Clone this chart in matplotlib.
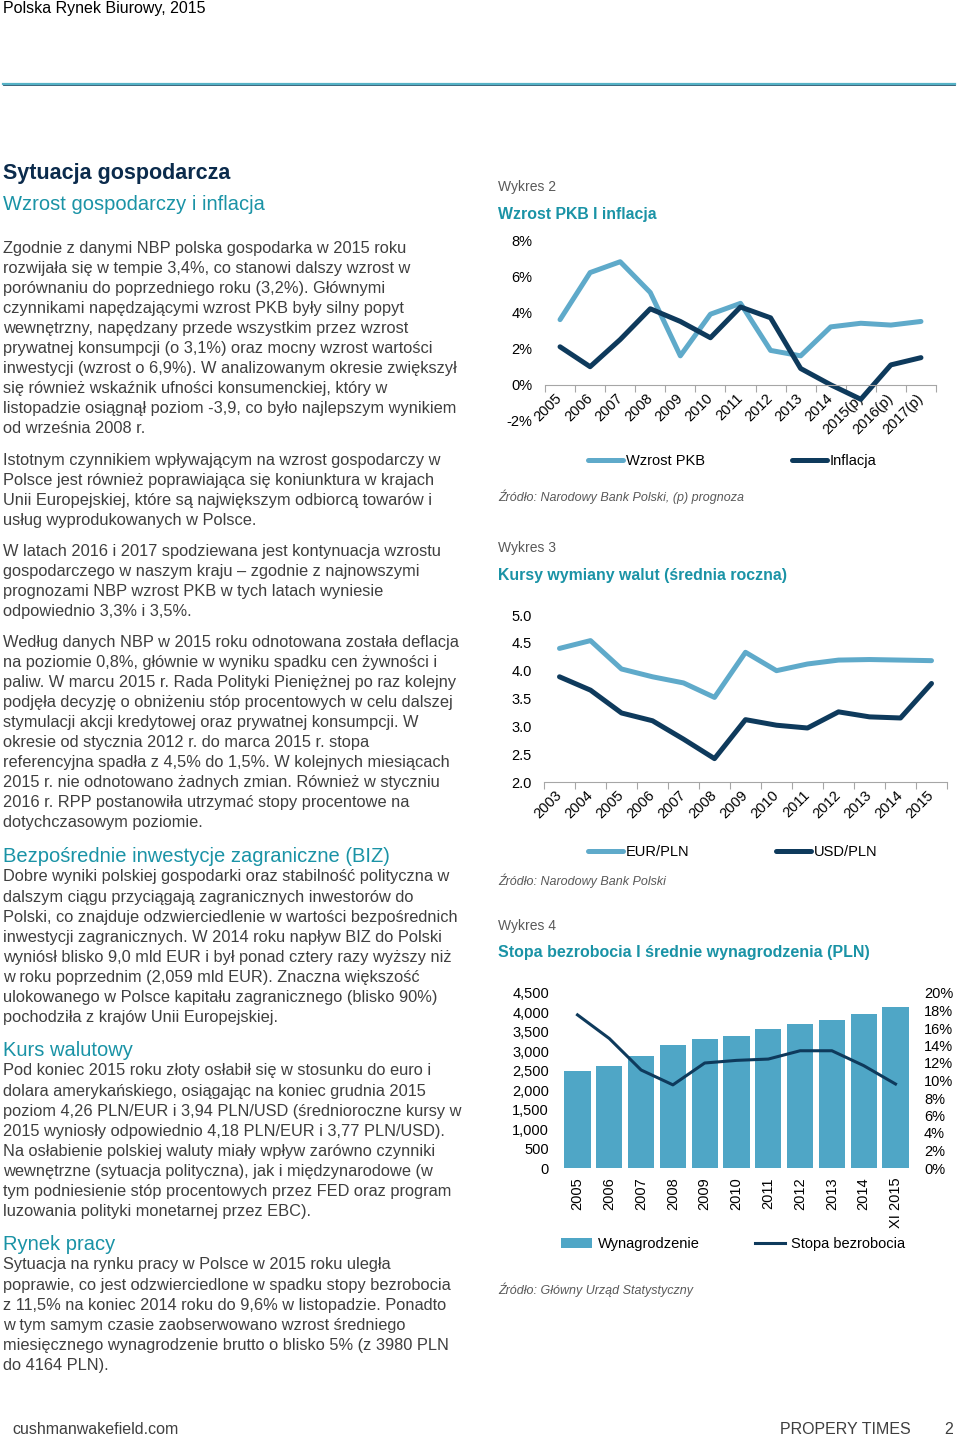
#!/usr/bin/env python3
"""
plot.py — page 2 of the Polish office market report: text column + three charts.
"""
import numpy as np
import matplotlib
matplotlib.use('Agg')
import matplotlib.pyplot as plt
from matplotlib.ticker import FuncFormatter

plt.rcParams['font.family'] = ['Liberation Sans', 'DejaVu Sans']

# --- chart data -------------------------------------------------------------
pkb_years = ['2005', '2006', '2007', '2008', '2009', '2010', '2011',
             '2012', '2013', '2014', '2015(p)', '2016(p)', '2017(p)']
pkb_growth = [3.6, 6.2, 6.8, 5.1, 1.6, 3.9, 4.5, 1.9, 1.6, 3.2, 3.4, 3.3, 3.5]
inflation = [2.1, 1.0, 2.5, 4.2, 3.5, 2.6, 4.3, 3.7, 0.9, 0.0, -0.8, 1.1, 1.5]

fx_years = ['2003', '2004', '2005', '2006', '2007', '2008', '2009',
            '2010', '2011', '2012', '2013', '2014', '2015']
eur_pln = [4.40, 4.54, 4.03, 3.89, 3.78, 3.52, 4.33, 4.00, 4.12, 4.19, 4.20, 4.19, 4.18]
usd_pln = [3.89, 3.65, 3.24, 3.10, 2.77, 2.42, 3.12, 3.02, 2.97, 3.26, 3.17, 3.15, 3.77]

wage_years = ['2005', '2006', '2007', '2008', '2009', '2010', '2011',
              '2012', '2013', '2014', 'XI 2015']
wages = [2485, 2620, 2870, 3160, 3305, 3405, 3585, 3705, 3815, 3960, 4140]
unemployment = [17.5, 14.8, 11.2, 9.5, 12.0, 12.3, 12.45, 13.4, 13.4, 11.7, 9.6]

# --- page text --------------------------------------------------------------
para_gdp = [
    "Zgodnie z danymi NBP polska gospodarka w 2015 roku",
    "rozwijała się w tempie 3,4%, co stanowi dalszy wzrost w",
    "porównaniu do poprzedniego roku (3,2%). Głównymi",
    "czynnikami napędzającymi wzrost PKB były silny popyt",
    "wewnętrzny, napędzany przede wszystkim przez wzrost",
    "prywatnej konsumpcji (o 3,1%) oraz mocny wzrost wartości",
    "inwestycji (wzrost o 6,9%). W analizowanym okresie zwiększył",
    "się również wskaźnik ufności konsumenckiej, który w",
    "listopadzie osiągnął poziom -3,9, co było najlepszym wynikiem",
    "od września 2008 r.",
]
para_eu = [
    "Istotnym czynnikiem wpływającym na wzrost gospodarczy w",
    "Polsce jest również poprawiająca się koniunktura w krajach",
    "Unii Europejskiej, które są największym odbiorcą towarów i",
    "usług wyprodukowanych w Polsce.",
]
para_forecast = [
    "W latach 2016 i 2017 spodziewana jest kontynuacja wzrostu",
    "gospodarczego w naszym kraju – zgodnie z najnowszymi",
    "prognozami NBP wzrost PKB w tych latach wyniesie",
    "odpowiednio 3,3% i 3,5%.",
]
para_deflation = [
    "Według danych NBP w 2015 roku odnotowana została deflacja",
    "na poziomie 0,8%, głównie w wyniku spadku cen żywności i",
    "paliw. W marcu 2015 r. Rada Polityki Pieniężnej po raz kolejny",
    "podjęła decyzję o obniżeniu stóp procentowych w celu dalszej",
    "stymulacji akcji kredytowej oraz prywatnej konsumpcji. W",
    "okresie od stycznia 2012 r. do marca 2015 r. stopa",
    "referencyjna spadła z 4,5% do 1,5%. W kolejnych miesiącach",
    "2015 r. nie odnotowano żadnych zmian. Również w styczniu",
    "2016 r. RPP postanowiła utrzymać stopy procentowe na",
    "dotychczasowym poziomie.",
]
para_biz = [
    "Dobre wyniki polskiej gospodarki oraz stabilność polityczna w",
    "dalszym ciągu przyciągają zagranicznych inwestorów do",
    "Polski, co znajduje odzwierciedlenie w wartości bezpośrednich",
    "inwestycji zagranicznych. W 2014 roku napływ BIZ do Polski",
    "wyniósł blisko 9,0 mld EUR i był ponad cztery razy wyższy niż",
    "w roku poprzednim (2,059 mld EUR). Znaczna większość",
    "ulokowanego w Polsce kapitału zagranicznego (blisko 90%)",
    "pochodziła z krajów Unii Europejskiej.",
]
para_fx = [
    "Pod koniec 2015 roku złoty osłabił się w stosunku do euro i",
    "dolara amerykańskiego, osiągając na koniec grudnia 2015",
    "poziom 4,26 PLN/EUR i 3,94 PLN/USD (średnioroczne kursy w",
    "2015 wyniosły odpowiednio 4,18 PLN/EUR i 3,77 PLN/USD).",
    "Na osłabienie polskiej waluty miały wpływ zarówno czynniki",
    "wewnętrzne (sytuacja polityczna), jak i międzynarodowe (w",
    "tym podniesienie stóp procentowych przez FED oraz program",
    "luzowania polityki monetarnej przez EBC).",
]
para_labour = [
    "Sytuacja na rynku pracy w Polsce w 2015 roku uległa",
    "poprawie, co jest odzwierciedlone w spadku stopy bezrobocia",
    "z 11,5% na koniec 2014 roku do 9,6% w listopadzie. Ponadto",
    "w tym samym czasie zaobserwowano wzrost średniego",
    "miesięcznego wynagrodzenie brutto o blisko 5% (z 3980 PLN",
    "do 4164 PLN).",
]

# --- styling ----------------------------------------------------------------
W, H = 960, 1439
LIGHT = '#5FAACA'
DARK = '#0E3A5C'
BAR = '#4FA6C6'
TEAL = '#1A93A6'
NAVY = '#0B2B4C'
BODY = '#3F3F3F'
GREY = '#595959'
AXIS = '#A6A6A6'
NARROW = ['Liberation Sans Narrow', 'Liberation Sans', 'DejaVu Sans']

BODY_SIZE = 11.75
HEAD_SIZE = 14.5
TICK_SIZE = 10.5
LINE_STEP = 20.1

fig = plt.figure(figsize=(W / 100, H / 100), dpi=100)


def put(x, y, s, size, color, **kw):
    """Place text using page pixel coordinates (y from top)."""
    fig.text(x / W, 1 - y / H, s, fontsize=size, color=color, va='center', **kw)


def para(lines, y0):
    for i, line in enumerate(lines):
        put(3, y0 + i * LINE_STEP, line, BODY_SIZE, BODY)


def px_axes(left, top, right, bottom):
    return fig.add_axes([left / W, 1 - bottom / H, (right - left) / W, (bottom - top) / H])


def category_axis(ax, labels, pad):
    n = len(labels)
    ax.set_xlim(-0.5, n - 0.5)
    ax.set_xticks(np.arange(-0.5, n, 1.0))
    ax.set_xticklabels([])
    ax.tick_params(axis='x', which='major', length=5, color=AXIS, direction='out')
    ax.set_xticks(np.arange(n), minor=True)
    ax.set_xticklabels(labels, minor=True, rotation=45, ha='right', va='center',
                       rotation_mode='anchor', fontsize=TICK_SIZE, color='black')
    ax.tick_params(axis='x', which='minor', length=0, pad=pad)
    for side in ('left', 'right', 'top'):
        ax.spines[side].set_visible(False)
    ax.spines['bottom'].set_color(AXIS)
    ax.tick_params(axis='y', length=0, pad=9, labelsize=TICK_SIZE)


# 1) Page header, rule and footer
put(3, 8, "Polska Rynek Biurowy, 2015", 11.5, 'black', family=NARROW)
fig.add_artist(plt.Line2D([3 / W, 955 / W], [1 - 83.5 / H] * 2, color='#55B2C6', lw=1.6))
fig.add_artist(plt.Line2D([3 / W, 955 / W], [1 - 85 / H] * 2, color='#1F4E68', lw=0.6))
put(12, 1430, "cushmanwakefield.com", 11.5, BODY, family=NARROW)
put(780, 1430, "PROPERY TIMES", 11.5, BODY, family=NARROW)
put(944, 1430, "2", 11.5, BODY, family=NARROW)

# 2) Left text column
put(3, 174, "Sytuacja gospodarcza", 15.5, NAVY, weight='bold')
put(3, 204, "Wzrost gospodarczy i inflacja", HEAD_SIZE, TEAL)
para(para_gdp, 248)
para(para_eu, 460)
para(para_forecast, 551)
para(para_deflation, 642)
put(3, 856, "Bezpośrednie inwestycje zagraniczne (BIZ)", HEAD_SIZE, TEAL)
para(para_biz, 877)
put(3, 1050, "Kurs walutowy", HEAD_SIZE, TEAL)
para(para_fx, 1071)
put(3, 1244, "Rynek pracy", HEAD_SIZE, TEAL)
para(para_labour, 1265)

# 3) Wykres 2 — GDP growth and inflation
put(498, 187, "Wykres 2", 10, GREY)
put(498, 214, "Wzrost PKB I inflacja", 11.45, TEAL, weight='bold')
ax2 = px_axes(545, 240, 936, 421)
x = np.arange(len(pkb_years))
ax2.plot(x, pkb_growth, color=LIGHT, lw=3.6, solid_capstyle='round',
         solid_joinstyle='round', label='Wzrost PKB')
ax2.plot(x, inflation, color=DARK, lw=3.6, solid_capstyle='round',
         solid_joinstyle='round', label='Inflacja')
ax2.set_ylim(-2, 8)
ax2.set_yticks([-2, 0, 2, 4, 6, 8])
ax2.yaxis.set_major_formatter(FuncFormatter(lambda v, _: f'{v:.0f}%'))
# category axis crosses at 0% (set before tick styling: set_position resets ticks)
ax2.spines['bottom'].set_position(('data', 0))
category_axis(ax2, pkb_years, pad=8)
ax2.legend(loc='center left', bbox_to_anchor=(588 / W, 1 - 461 / H),
           bbox_transform=fig.transFigure, ncol=2, frameon=False,
           handlelength=2.4, handletextpad=0.2, columnspacing=5.95,
           borderpad=0, borderaxespad=0, fontsize=TICK_SIZE)
put(498, 497, "Źródło: Narodowy Bank Polski, (p) prognoza", 9.0, GREY, style='italic')

# 4) Wykres 3 — exchange rates
put(498, 548, "Wykres 3", 10, GREY)
put(498, 575, "Kursy wymiany walut (średnia roczna)", 11.45, TEAL, weight='bold')
ax3 = px_axes(544, 615, 947, 782)
x = np.arange(len(fx_years))
ax3.plot(x, eur_pln, color=LIGHT, lw=3.6, solid_capstyle='round',
         solid_joinstyle='round', label='EUR/PLN')
ax3.plot(x, usd_pln, color=DARK, lw=3.6, solid_capstyle='round',
         solid_joinstyle='round', label='USD/PLN')
ax3.set_ylim(2, 5)
ax3.set_yticks([2.0, 2.5, 3.0, 3.5, 4.0, 4.5, 5.0])
ax3.yaxis.set_major_formatter(FuncFormatter(lambda v, _: f'{v:.1f}'))
category_axis(ax3, fx_years, pad=8)
ax3.legend(loc='center left', bbox_to_anchor=(588 / W, 1 - 852 / H),
           bbox_transform=fig.transFigure, ncol=2, frameon=False,
           handlelength=2.4, handletextpad=0.2, columnspacing=5.95,
           borderpad=0, borderaxespad=0, fontsize=TICK_SIZE)
put(498, 881, "Źródło: Narodowy Bank Polski", 9.0, GREY, style='italic')

# 5) Wykres 4 — wages (bars) and unemployment rate (line)
put(498, 926, "Wykres 4", 10, GREY)
put(498, 952, "Stopa bezrobocia I średnie wynagrodzenia (PLN)", 11.5, TEAL, weight='bold')
ax4 = px_axes(561.6, 993, 911.4, 1168)
x = np.arange(len(wage_years))
bars = ax4.bar(x, wages, width=0.83, color=BAR, label='Wynagrodzenie')
ax4.set_xlim(-0.5, len(wage_years) - 0.5)
ax4.set_ylim(0, 4500)
ax4.set_yticks(np.arange(0, 4501, 500))
ax4.yaxis.set_major_formatter(FuncFormatter(lambda v, _: f'{v:,.0f}'))
ax4.set_xticks(x)
ax4.set_xticklabels(wage_years, rotation=90, fontsize=TICK_SIZE)
ax4.tick_params(axis='x', length=0, pad=7)
ax4.tick_params(axis='y', length=0, pad=9, labelsize=TICK_SIZE)
ax4r = ax4.twinx()
line, = ax4r.plot(x, unemployment, color=DARK, lw=2.2, label='Stopa bezrobocia')
ax4r.set_ylim(0, 20)
ax4r.set_yticks(np.arange(0, 21, 2))
ax4r.yaxis.set_major_formatter(FuncFormatter(lambda v, _: f'{v:.0f}%'))
ax4r.tick_params(axis='y', length=0, pad=9, labelsize=TICK_SIZE)
for a in (ax4, ax4r):
    for s in a.spines.values():
        s.set_visible(False)
fig.legend([bars, line], ['Wynagrodzenie', 'Stopa bezrobocia'],
           loc='center left', bbox_to_anchor=(561 / W, 1 - 1244 / H), ncol=2,
           frameon=False, handlelength=2.1, handletextpad=0.4, columnspacing=3.8,
           borderpad=0, borderaxespad=0, fontsize=TICK_SIZE)
put(498, 1290, "Źródło: Główny Urząd Statystyczny", 9.0, GREY, style='italic')

fig.savefig('out.png', dpi=100)
